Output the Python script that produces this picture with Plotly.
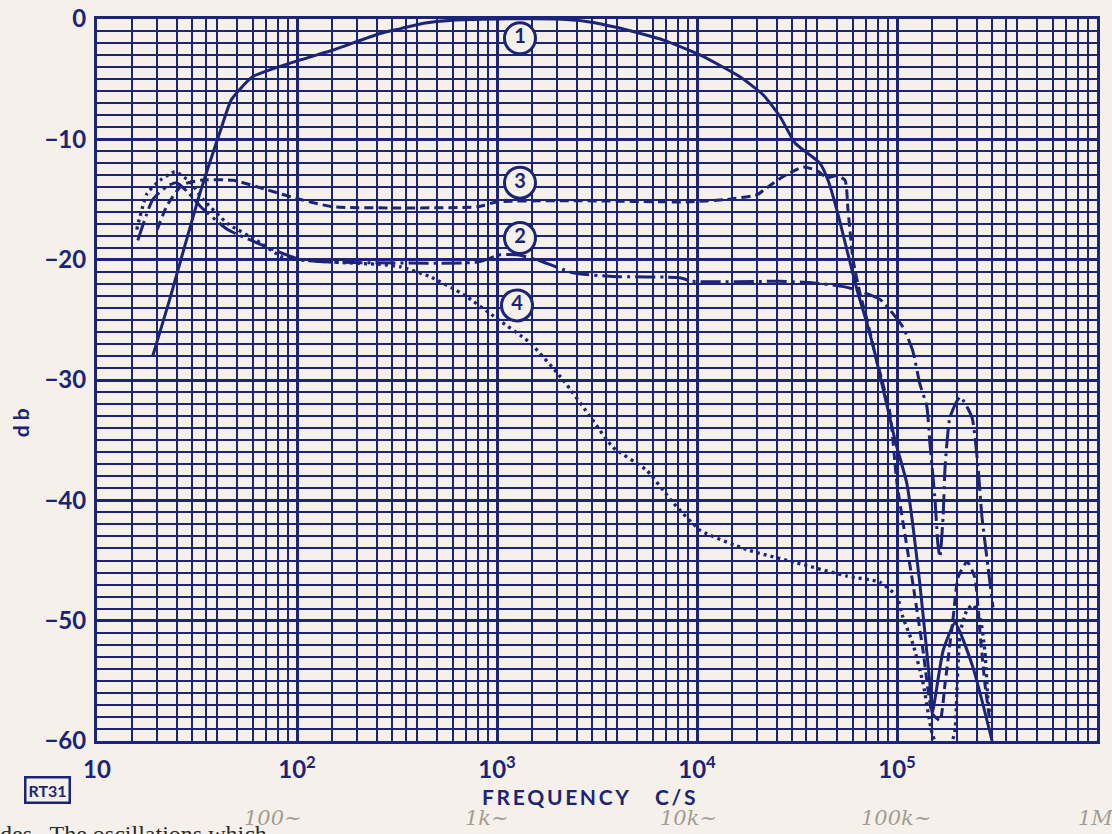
import plotly.graph_objects as go

# ---------------- data (frequency in c/s, level in db) ----------------
c1_f = [19, 23, 32, 41, 47, 60, 104, 150, 260, 330, 430, 600, 1000, 2000, 2800, 4100, 6800,
        10400, 16400, 21400, 26000, 30900, 41200, 45200, 50100, 56200, 63100, 70800, 77600,
        97700, 112000, 130000, 146000, 150000, 170000, 195000, 240000, 299000]
c1_db = [-28, -23.4, -15.0, -9.5, -6.7, -4.8, -3.4, -2.6, -1.2, -0.8, -0.35, -0.1, 0, 0, -0.2,
         -0.75, -1.75, -3.0, -4.8, -6.3, -8.1, -10.3, -12.0, -13.4, -15.9, -19.2, -22.5, -25.3,
         -27.8, -35, -38.6, -46.9, -55.2, -57.7, -52.5, -50.2, -53.9, -60]

c2_f = [16, 19, 22.4, 25, 28.5, 33, 45, 63, 104, 150, 800, 1035, 1260, 1580, 2400, 3800, 8200,
        9500, 26000, 36700, 56200, 82200, 107000, 120000, 130000, 141000, 146000, 155000,
        160000, 164000, 170000, 174000, 184000, 207000, 237000, 254000, 266000, 285000, 302000]
c2_db = [-18.4, -15, -13.9, -13.6, -14.4, -15.6, -17.5, -18.6, -20.0, -20.2, -20.2, -19.6, -19.6,
         -20, -21.1, -21.4, -21.5, -21.8, -21.8, -21.9, -22.3, -23.3, -25.6, -27.6, -30.3, -32.2,
         -35.2, -40, -43.6, -44.7, -41.4, -37.2, -33.1, -31.4, -33.1, -37.2, -41.4, -45.5, -48.9]

c3_f = [20, 22.4, 26.6, 33, 48, 71, 104, 150, 330, 800, 1000, 2500, 8900, 14100, 20000, 21600,
        26900, 33900, 39800, 44700, 50100, 55000, 56900, 60300, 65300, 70800, 77600, 92300,
        100000, 120000, 135000, 150000, 164000, 174000, 191000, 202000, 224000, 245000,
        260000, 275000, 292000]
c3_db = [-17.5, -15.5, -13.8, -13.4, -13.4, -14.2, -15.0, -15.6, -15.7, -15.6, -15.2, -15.1,
         -15.2, -15.0, -14.6, -14.2, -13.1, -12.3, -12.6, -13.2, -13.0, -13.4, -15.9, -20, -22.8,
         -25, -27.8, -32.8, -38.6, -46.9, -52.5, -57.7, -58.3, -55.2, -49.7, -46.4, -45.1, -46.4,
         -51, -55.2, -58.5]

c4_f = [15.8, 17.8, 20.7, 24.5, 29, 34, 45, 63, 85, 150, 260, 330, 460, 680, 1000, 1460, 2140,
        3000, 3800, 5600, 7600, 10400, 17800, 31600, 56200, 82200, 100000, 107000, 120000,
        135000, 150000, 164000, 184000, 195000, 200000, 207000, 224000, 240000, 260000,
        275000, 285000, 292000]
c4_db = [-17.5, -14.5, -13.4, -12.7, -13.5, -15, -17.0, -18.4, -19.8, -20.2, -20.4, -20.6, -21.4,
         -22.9, -24.9, -26.9, -30.0, -33.3, -35.6, -37.5, -40.2, -42.5, -44.1, -45.2, -46.3,
         -46.8, -48, -49.7, -51.9, -55.2, -59.4, -60.8, -60.5, -59.1, -55.2, -51, -49.1, -48.7,
         -49.7, -52.5, -56.6, -58]

label_text = ["1", "2", "3", "4"]
label_f = [1303, 1303, 1303, 1259]
label_db = [-1.6, -18.2, -13.6, -23.8]

x_major = [10, 100, 1000, 10000, 100000, 1000000]
x_major_text = ["10", "10<sup>2</sup>", "10<sup>3</sup>", "10<sup>4</sup>", "10<sup>5</sup>", "10<sup>6</sup>"]
x_minor_mult = [1.5, 2, 2.5, 3, 3.5, 4, 5, 6, 7, 8, 9]
y_major = [0, -10, -20, -30, -40, -50, -60]
y_major_text = ["0", "\u221210", "\u221220", "\u221230", "\u221240", "\u221250", "\u221260"]

pencil_notes = ["100~", "1k~", "10k~", "100k~", "1M"]
pencil_x = [0.176, 0.390, 0.591, 0.799, 0.998]

# ---------------- styling ----------------
INK = "#1b2476"
PAPER = "#f5f1ea"
FONT = "Lato"

fig = go.Figure()

common = dict(xaxis="x2", yaxis="y")
fig.add_trace(go.Scatter(x=c1_f, y=c1_db, mode="lines", name="1",
                         line=dict(color=INK, width=3, shape="spline", smoothing=0.5), **common))
fig.add_trace(go.Scatter(x=c2_f, y=c2_db, mode="lines", name="2",
                         line=dict(color=INK, width=3, shape="spline", smoothing=0.5,
                                   dash="20px,5px,3px,5px"), **common))
fig.add_trace(go.Scatter(x=c3_f, y=c3_db, mode="lines", name="3",
                         line=dict(color=INK, width=3, shape="spline", smoothing=0.5,
                                   dash="9px,5px"), **common))
fig.add_trace(go.Scatter(x=c4_f, y=c4_db, mode="lines", name="4",
                         line=dict(color=INK, width=3.3, shape="spline", smoothing=0.5,
                                   dash="3px,4px"), **common))

fig.add_trace(go.Scatter(x=label_f, y=label_db, mode="markers+text", text=label_text,
                         textposition="middle center",
                         textfont=dict(family=FONT, size=20, color=INK, weight="bold"),
                         marker=dict(symbol="circle", size=31, color=PAPER,
                                     line=dict(color=INK, width=3)),
                         cliponaxis=False, **common))

# invisible trace to keep the primary (fine grid) x axis alive
fig.add_trace(go.Scatter(x=[x_major[0], x_major[-1]], y=[y_major[0], y_major[0]], mode="lines",
                         line=dict(width=0), hoverinfo="skip", showlegend=False,
                         xaxis="x", yaxis="y"))

minor_vals = [d * m for d in x_major[:-1] for m in x_minor_mult]
all_x_vals = x_major + minor_vals
all_x_text = x_major_text + [""] * len(minor_vals)

axis_font = dict(family=FONT, size=24, color=INK, weight="bold")

fig.update_layout(
    xaxis=dict(type="log", range=[1, 6], tickmode="array", tickvals=all_x_vals,
               ticktext=all_x_text, showgrid=True, gridcolor=INK, gridwidth=1.6,
               showline=True, linecolor=INK, linewidth=3, mirror=True,
               ticks="", ticklabelstandoff=5, tickfont=axis_font, zeroline=False,
               automargin=False),
    xaxis2=dict(type="log", range=[1, 6], overlaying="x", side="bottom",
                tickmode="array", tickvals=x_major, showticklabels=False,
                showgrid=True, gridcolor=INK, gridwidth=2.8, ticks="",
                showline=False, zeroline=False, automargin=False),
    yaxis=dict(range=[-60, 0], tickmode="array", tickvals=y_major, ticktext=y_major_text,
               showgrid=True, gridcolor=INK, gridwidth=2.8,
               minor=dict(dtick=1, showgrid=True, gridcolor=INK, gridwidth=1.6, ticks=""),
               showline=True, linecolor=INK, linewidth=3, mirror=True,
               ticks="", ticklabelstandoff=3, tickfont=axis_font, zeroline=False,
               automargin=False),
)

annotations = [
    dict(text="F\u2009R\u2009E\u2009Q\u2009U\u2009E\u2009N\u2009C\u2009Y\u2003\u2002C\u2009/\u2009S",
         xref="paper", yref="paper", x=0.491, y=-0.077, xanchor="center", yanchor="middle",
         showarrow=False, font=dict(family=FONT, size=21, color=INK, weight="bold")),
    dict(text="d b", xref="paper", yref="paper", x=-0.077, y=0.44, textangle=-90,
         xanchor="center", yanchor="middle",
         showarrow=False, font=dict(family=FONT, size=21, color=INK, weight="bold")),
    dict(text="RT31", xref="paper", yref="paper", x=-0.050, y=-0.068,
         xanchor="center", yanchor="middle", showarrow=False,
         font=dict(family=FONT, size=16, color=INK, weight="bold"),
         bordercolor=INK, borderwidth=2.5, borderpad=2),
    dict(text="des.  The oscillations which", xref="paper", yref="paper", x=-0.099, y=-0.108,
         xanchor="left", yanchor="top", showarrow=False,
         font=dict(family="Liberation Serif", size=24, color="#2a2a2a")),
]
for t, px in zip(pencil_notes, pencil_x):
    annotations.append(dict(text=t, xref="paper", yref="paper", x=px, y=-0.107,
                            xanchor="center", yanchor="middle", showarrow=False,
                            font=dict(family="DejaVu Serif", size=21, color="#a29c94",
                                      style="italic")))

fig.update_layout(width=1112, height=834,
                  margin=dict(l=97, r=15, t=19, b=93, autoexpand=False),
                  paper_bgcolor=PAPER, plot_bgcolor=PAPER,
                  showlegend=False, annotations=annotations)

fig.write_html("out.html")
